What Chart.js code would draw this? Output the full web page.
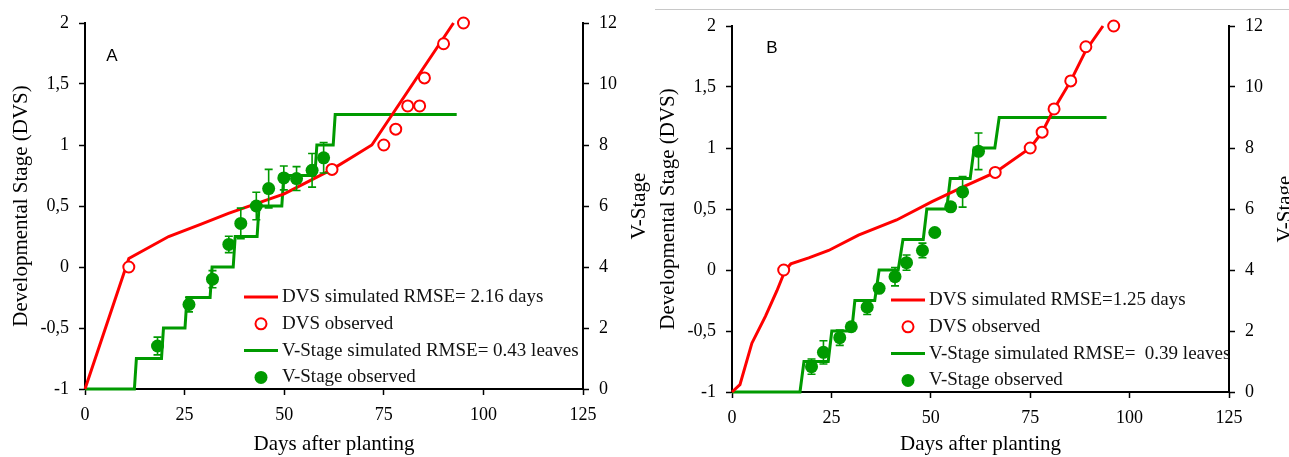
<!DOCTYPE html>
<html>
<head>
<meta charset="utf-8">
<script src="https://cdn.jsdelivr.net/npm/chart.js@4.4.1/dist/chart.umd.min.js"></script>
<style>
  html, body { margin: 0; padding: 0; background: #fff; }
  #wrap { position: relative; width: 1289px; height: 457px; overflow: hidden; }
  #chartA { position: absolute; left: 0; top: 0; }
  #chartB { position: absolute; left: 650px; top: 0; }
  #rule { position: absolute; left: 655px; top: 9px; width: 634px; height: 1px; background: #c8c8c8; }
</style>
</head>
<body>
<div id="wrap">
  <canvas id="chartA" width="650" height="457"></canvas>
  <canvas id="chartB" width="639" height="457"></canvas>
  <div id="rule"></div>
</div>
<script>
// === PANEL A ===
const dvsSimDaysA = [0, 11, 21, 29, 36, 50, 62, 67, 72, 92.5];
const dvsSimA = [-1, 0.07, 0.25, 0.35, 0.44, 0.6, 0.8, 0.9, 1.0, 2.0];
const dvsObsDaysA = [11, 62, 75, 78, 81, 84, 85.2, 90, 95];
const dvsObsA = [0, 0.8, 1.0, 1.13, 1.32, 1.32, 1.55, 1.83, 2.0];
const vSimDaysA = [0, 12.4, 12.9, 19.2, 19.7, 25.1, 25.6, 31.4, 31.9, 37.2, 37.7, 43.2, 43.7, 49.4, 49.9, 57.7, 58.2, 62.3, 62.8, 93.3];
const vSimA = [0, 0, 1, 1, 2, 2, 3, 3, 4, 4, 5, 5, 6, 6, 7, 7, 8, 8, 9, 9];
const vObsDaysA = [18.2, 26.1, 32.0, 36.1, 39.1, 43.0, 46.1, 49.9, 53.1, 57.0, 59.9];
const vObsA = [1.41, 2.77, 3.6, 4.74, 5.43, 6.0, 6.57, 6.92, 6.9, 7.17, 7.58];
const vErrA = [0.29, 0.24, 0.28, 0.27, 0.5, 0.45, 0.63, 0.39, 0.39, 0.55, 0.5];
const legendA = ["DVS simulated RMSE= 2.16 days", "DVS observed", "V-Stage simulated RMSE= 0.43 leaves", "V-Stage observed"];

// === PANEL B ===
const dvsSimDaysB = [0, 2, 5, 8.4, 11.3, 13.4, 14.8, 19.3, 24.3, 31.8, 41.4, 50.3, 58, 66.2, 75, 78, 81, 85.2, 89, 93.3];
const dvsSimB = [-1, -0.94, -0.6, -0.38, -0.17, 0, 0.05, 0.1, 0.16, 0.285, 0.41, 0.56, 0.68, 0.8, 1.0, 1.13, 1.32, 1.55, 1.8, 2.0];
const dvsObsDaysB = [13, 66.2, 75, 78, 81, 85.2, 89, 96];
const dvsObsB = [0, 0.8, 1.0, 1.13, 1.32, 1.55, 1.83, 2.0];
const vSimDaysB = [0, 17.1, 18.1, 24.2, 25.1, 30.1, 30.9, 35.9, 37.0, 41.8, 43.0, 48.1, 49.0, 54.0, 54.9, 59.9, 60.9, 66.1, 67.2, 94.2];
const vSimB = [0, 0, 1, 1, 2, 2, 3, 3, 4, 4, 5, 5, 6, 6, 7, 7, 8, 8, 9, 9];
const vObsDaysB = [20.0, 23.0, 27.1, 30.0, 34.0, 37.0, 41.0, 43.9, 47.9, 51.0, 55.0, 58.0, 62.0];
const vObsB = [0.83, 1.3, 1.78, 2.14, 2.78, 3.4, 3.78, 4.24, 4.64, 5.23, 6.07, 6.56, 7.89];
const vErrB = [0.25, 0.38, 0.25, 0, 0.24, 0, 0.3, 0.25, 0.24, 0, 0, 0.5, 0.6];
const legendB = ["DVS simulated RMSE=1.25 days", "DVS observed", "V-Stage simulated RMSE=  0.39 leaves", "V-Stage observed"];

const RED = "#ff0000";
const GREEN = "#009a00";
const SERIF = "'Liberation Serif', 'Times New Roman', serif";

const pts = (xs, ys) => xs.map((x, i) => ({ x: x, y: ys[i] }));

// error bars, legend, right title and panel letter
const panelPlugin = {
  id: "panel",
  beforeDatasetDraw(chart, args) {
    const ds = chart.data.datasets[args.index];
    if (!ds.errors) return;
    const ctx = chart.ctx;
    const xs = chart.scales.x, ys = chart.scales[ds.yAxisID];
    ctx.save();
    ctx.strokeStyle = GREEN;
    ctx.lineWidth = 1.6;
    ds.data.forEach((p, i) => {
      const e = ds.errors[i];
      if (!e) return;
      const px = xs.getPixelForValue(p.x);
      const t = ys.getPixelForValue(p.y + e), b = ys.getPixelForValue(p.y - e);
      ctx.beginPath();
      ctx.moveTo(px, t); ctx.lineTo(px, b);
      ctx.moveTo(px - 4, t); ctx.lineTo(px + 4, t);
      ctx.moveTo(px - 4, b); ctx.lineTo(px + 4, b);
      ctx.stroke();
    });
    ctx.restore();
  },
  afterDraw(chart, args, opts) {
    const ctx = chart.ctx;
    const a = chart.chartArea;
    ctx.save();
    // right axis title
    ctx.fillStyle = "#000";
    ctx.font = "21px " + SERIF;
    ctx.textAlign = "center";
    ctx.textBaseline = "middle";
    ctx.translate(a.right + 56, (a.top + a.bottom) / 2);
    ctx.rotate(-Math.PI / 2);
    ctx.fillText("V-Stage", 0, 0);
    ctx.restore();

    // panel letter
    ctx.save();
    ctx.fillStyle = "#000";
    ctx.font = "17px 'Liberation Sans', Arial, sans-serif";
    ctx.textAlign = "center";
    ctx.textBaseline = "middle";
    ctx.fillText(opts.letter, opts.letterX, opts.letterY);
    ctx.restore();

    // legend
    const x0 = a.left + 159, x1 = a.left + 193, tx = a.left + 197;
    ctx.save();
    ctx.font = "19px " + SERIF;
    ctx.textBaseline = "middle";
    ctx.textAlign = "left";
    opts.labels.forEach((lab, i) => {
      const y = a.top + 274 + i * 26.8;
      const col = i < 2 ? RED : GREEN;
      if (i % 2 === 0) {
        ctx.strokeStyle = col;
        ctx.lineWidth = 3;
        ctx.beginPath(); ctx.moveTo(x0, y); ctx.lineTo(x1, y); ctx.stroke();
      } else if (i === 1) {
        ctx.strokeStyle = col;
        ctx.lineWidth = 2;
        ctx.beginPath(); ctx.arc((x0 + x1) / 2, y, 5.5, 0, Math.PI * 2); ctx.stroke();
      } else {
        ctx.fillStyle = col;
        ctx.beginPath(); ctx.arc((x0 + x1) / 2, y, 6.5, 0, Math.PI * 2); ctx.fill();
      }
      ctx.fillStyle = "#111";
      ctx.fillText(lab, tx, y);
    });
    ctx.restore();
  }
};

function makePanel(id, p) {
  const tickFont = { family: SERIF, size: 18 };
  const titleFont = { family: SERIF, size: 21 };
  const axisBase = {
    grid: { drawOnChartArea: false, color: "#000", tickLength: 6, tickWidth: 1.5 },
    border: { color: "#000", width: 2 }
  };
  new Chart(document.getElementById(id), {
    type: "scatter",
    data: {
      datasets: [
        {
          label: p.labels[0],
          data: pts(p.dvsSimDays, p.dvsSim),
          showLine: true,
          borderColor: RED,
          borderWidth: 3,
          pointRadius: 0,
          yAxisID: "y",
          clip: false,
          order: 3
        },
        {
          label: p.labels[1],
          data: pts(p.dvsObsDays, p.dvsObs),
          showLine: false,
          pointRadius: 5.5,
          pointBorderWidth: 2,
          pointBorderColor: RED,
          pointBackgroundColor: "#fff",
          yAxisID: "y",
          clip: false,
          order: 2
        },
        {
          label: p.labels[2],
          data: pts(p.vSimDays, p.vSim),
          showLine: true,
          borderColor: GREEN,
          borderWidth: 3,
          pointRadius: 0,
          yAxisID: "y1",
          clip: false,
          order: 4
        },
        {
          label: p.labels[3],
          data: pts(p.vObsDays, p.vObs),
          errors: p.vErr,
          showLine: false,
          pointRadius: 6.5,
          pointBorderWidth: 0,
          pointBackgroundColor: GREEN,
          yAxisID: "y1",
          clip: false,
          order: 1
        }
      ]
    },
    options: {
      responsive: false,
      animation: false,
      layout: { padding: { left: 0, right: 0, top: p.top, bottom: 0 } },
      plugins: {
        legend: { display: false },
        tooltip: { enabled: false },
        panel: { letter: p.letter, letterX: p.letterX, letterY: p.letterY, labels: p.labels }
      },
      scales: {
        x: {
          ...axisBase,
          type: "linear",
          min: 0, max: 125,
          ticks: { stepSize: 25, padding: 9, font: tickFont, color: "#000" },
          title: { display: true, text: "Days after planting", font: titleFont, color: "#000", padding: { top: 0, bottom: 0 } },
          afterFit: s => { s.height = p.xHeight; }
        },
        y: {
          ...axisBase,
          position: "left",
          min: -1, max: 2,
          ticks: { stepSize: 0.5, padding: 10, font: tickFont, color: "#000", callback: v => String(v).replace(".", ",") },
          title: { display: true, text: "Developmental Stage (DVS)", font: titleFont, color: "#000", padding: { top: p.titlePad, bottom: 0 } },
          afterFit: s => { s.width = p.leftW; }
        },
        y1: {
          ...axisBase,
          position: "right",
          min: 0, max: 12,
          ticks: { stepSize: 2, padding: 10, font: tickFont, color: "#000" },
          afterFit: s => { s.width = p.rightW; }
        }
      }
    },
    plugins: [panelPlugin]
  });
}

makePanel("chartA", {
  dvsSimDays: dvsSimDaysA, dvsSim: dvsSimA, dvsObsDays: dvsObsDaysA, dvsObs: dvsObsA,
  vSimDays: vSimDaysA, vSim: vSimA, vObsDays: vObsDaysA, vObs: vObsA, vErr: vErrA,
  labels: legendA, letter: "A", letterX: 112, letterY: 56,
  top: 23, xHeight: 68, leftW: 85, rightW: 67, titlePad: 9
});

makePanel("chartB", {
  dvsSimDays: dvsSimDaysB, dvsSim: dvsSimB, dvsObsDays: dvsObsDaysB, dvsObs: dvsObsB,
  vSimDays: vSimDaysB, vSim: vSimB, vObsDays: vObsDaysB, vObs: vObsB, vErr: vErrB,
  labels: legendB, letter: "B", letterX: 122, letterY: 48,
  top: 26, xHeight: 65, leftW: 82, rightW: 60, titlePad: 6
});
</script>
</body>
</html>
